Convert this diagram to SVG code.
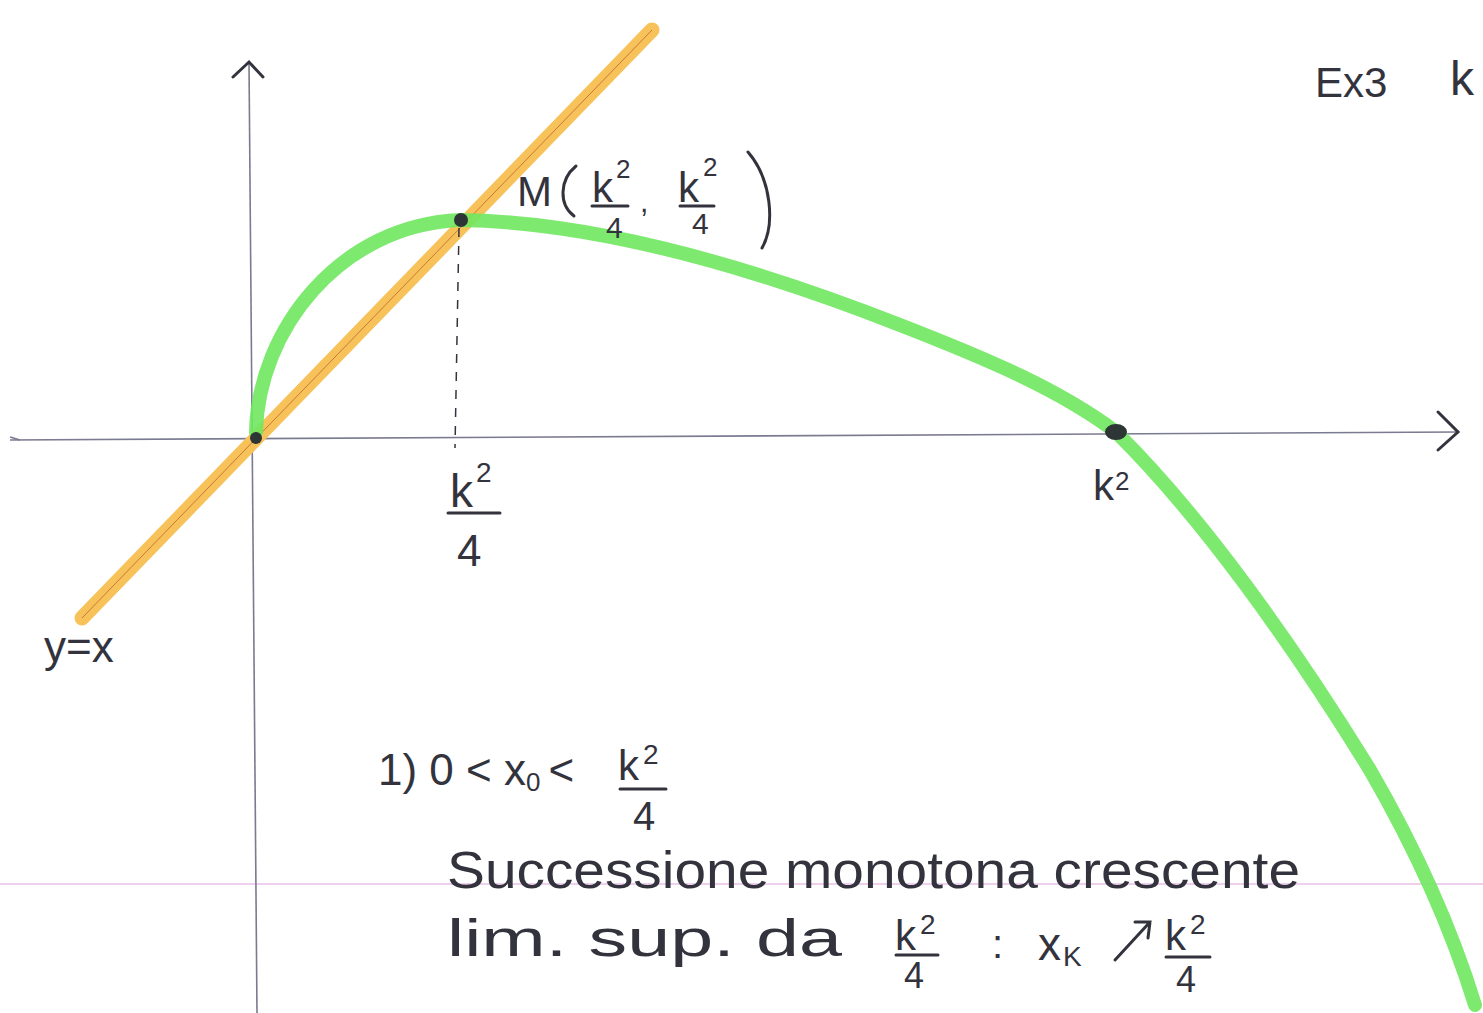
<svg xmlns="http://www.w3.org/2000/svg" width="1483" height="1013" viewBox="0 0 1483 1013">
<style>
.t{font-family:"Liberation Sans","DejaVu Sans",sans-serif;fill:#33333d;}
.ax{stroke:#7a7a90;stroke-width:1.6;fill:none;}
.ink{stroke:#33333d;stroke-width:3;fill:none;stroke-linecap:round;}
</style>
<rect width="1483" height="1013" fill="#ffffff"/>
<line x1="0" y1="884" x2="1483" y2="884" stroke="#e8c0e8" stroke-width="1.5"/>
<g id="axes">
<path class="ax" d="M249,62 L257,1013"/>
<path class="ax" d="M10,440 L1458,432"/>
<path class="ink" d="M233,77 L249,62 L263,77"/>
<path class="ink" d="M1438,412 L1458,432 L1438,450"/>
<path class="ax" d="M10,437 L20,440"/>
</g>
<g id="line-yx">
<line x1="82" y1="618" x2="652" y2="30" stroke="#f8c25a" stroke-width="15" stroke-linecap="round"/>
<line x1="82" y1="618" x2="652" y2="30" stroke="#c87838" stroke-width="1"/>
</g>
<g id="curve">
<path d="M256,432 C258,330 340,225 460,220 C600,222 760,270 900,325 C990,360 1060,390 1116,432 C1200,515 1290,640 1370,770 C1425,865 1455,940 1475,1005" stroke="#6fe85f" stroke-width="14" stroke-linecap="round" fill="none" opacity="0.9"/>
</g>
<g id="dashed">
<line x1="459" y1="228" x2="455" y2="448" stroke="#33333d" stroke-width="1.5" stroke-dasharray="9,9"/>
</g>
<g id="points">
<circle cx="256" cy="438" r="6" fill="#2d3535"/>
<circle cx="461" cy="220" r="7" fill="#2d3535"/>
<ellipse cx="1116" cy="432" rx="11" ry="8" fill="#2d3535"/>
</g>
<g id="label-M">
<text class="t" x="517" y="206" font-size="42">M</text>
<path class="ink" d="M576,166 C559,180 559,205 574,216"/>
<text class="t" x="592" y="202" font-size="42">k</text>
<text class="t" x="616" y="178" font-size="26">2</text>
<line class="ink" x1="592" y1="206" x2="628" y2="206"/>
<text class="t" x="606" y="238" font-size="30">4</text>
<text class="t" x="640" y="212" font-size="30">,</text>
<text class="t" x="678" y="202" font-size="42">k</text>
<text class="t" x="703" y="176" font-size="26">2</text>
<line class="ink" x1="680" y1="206" x2="714" y2="206"/>
<text class="t" x="692" y="234" font-size="30">4</text>
<path class="ink" d="M748,152 C772,180 775,225 762,248"/>
</g>
<g id="label-k2-4">
<text class="t" x="450" y="507" font-size="46">k</text>
<text class="t" x="476" y="482" font-size="28">2</text>
<line class="ink" x1="448" y1="513" x2="500" y2="513" stroke-width="2.5"/>
<text class="t" x="457" y="566" font-size="44">4</text>
</g>
<g id="label-k2">
<text class="t" x="1093" y="500" font-size="42">k</text>
<text class="t" x="1115" y="490" font-size="26">2</text>
</g>
<g id="label-yx">
<text class="t" x="44" y="662" font-size="44">y=x</text>
</g>
<g id="label-ex3">
<text class="t" x="1315" y="97" font-size="42">Ex3</text>
<text class="t" x="1450" y="95" font-size="48">k</text>
</g>
<g id="note">
<text class="t" x="378" y="785" font-size="44">1) 0 &lt; x<tspan font-size="26" dy="6">0</tspan><tspan dy="-6" dx="8">&lt;</tspan></text>
<text class="t" x="618" y="780" font-size="42">k</text>
<text class="t" x="643" y="764" font-size="28">2</text>
<line class="ink" x1="620" y1="789" x2="666" y2="789" stroke-width="2.5"/>
<text class="t" x="633" y="830" font-size="40">4</text>
<text class="t" x="447" y="888" font-size="52" textLength="853" lengthAdjust="spacingAndGlyphs">Successione monotona crescente</text>
<text class="t" x="447" y="956" font-size="52" textLength="395" lengthAdjust="spacingAndGlyphs">lim. sup. da</text>
<text class="t" x="895" y="950" font-size="42">k</text>
<text class="t" x="920" y="934" font-size="28">2</text>
<line class="ink" x1="896" y1="955" x2="938" y2="955" stroke-width="2.5"/>
<text class="t" x="904" y="988" font-size="36">4</text>
<text class="t" x="992" y="958" font-size="40">:</text>
<text class="t" x="1038" y="960" font-size="46">x</text>
<text class="t" x="1063" y="966" font-size="28">K</text>
<path class="ink" d="M1115,960 L1150,922 M1135,922 L1150,922 L1148,938"/>
<text class="t" x="1165" y="950" font-size="42">k</text>
<text class="t" x="1190" y="934" font-size="28">2</text>
<line class="ink" x1="1166" y1="957" x2="1210" y2="957" stroke-width="2.5"/>
<text class="t" x="1176" y="992" font-size="36">4</text>
</g>
</svg>
